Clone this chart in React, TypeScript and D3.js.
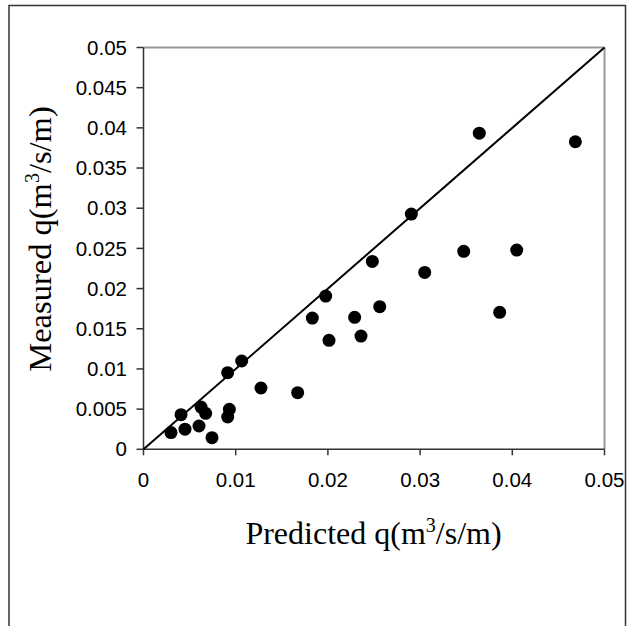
import React from "react";
import * as d3 from "d3";

const predicted = [
  0.00298, 0.0045, 0.00407, 0.00602, 0.00624, 0.00674, 0.00743, 0.00913, 0.00931, 0.00913,
  0.01065, 0.01274, 0.01672, 0.02012, 0.01831, 0.01976, 0.0229, 0.02359, 0.02562, 0.02482,
  0.02905, 0.0305, 0.03473, 0.03642, 0.04684, 0.04048, 0.03863,
];
const measured = [
  0.00208, 0.0025, 0.00431, 0.0029, 0.00526, 0.00448, 0.00145, 0.00402, 0.00498, 0.00954,
  0.01099, 0.00763, 0.00705, 0.01356, 0.01633, 0.01907, 0.01642, 0.01409, 0.01775, 0.02338,
  0.02927, 0.02201, 0.02463, 0.03934, 0.03827, 0.02479, 0.01704,
];
const xTicks = [0, 0.01, 0.02, 0.03, 0.04, 0.05];
const yTicks = [0, 0.005, 0.01, 0.015, 0.02, 0.025, 0.03, 0.035, 0.04, 0.045, 0.05];
const lineData: [number, number][] = [[0, 0], [0.05, 0.05]];

const W = 630;
const H = 626;
const L = 143.5, R = 604.5, T = 47.5, B = 449.3;

export default function App() {
  const x = d3.scaleLinear().domain([0, 0.05]).range([L, R]);
  const y = d3.scaleLinear().domain([0, 0.05]).range([B, T]);
  const line = d3.line<[number, number]>().x(d => x(d[0])).y(d => y(d[1]));
  const fmt = (v: number) => (v === 0 ? "0" : String(+v.toFixed(3)));
  const tickFont = "'Liberation Sans', Arial, sans-serif";
  const titleFont = "'Liberation Serif', 'Times New Roman', serif";
  return (
    <svg width={W} height={H} style={{ position: "absolute", left: 0, top: 0, background: "#fff" }}>
      <rect x={0} y={0} width={W} height={H} fill="#fff" />
      <rect x={9} y={5.5} width={616.5} height={700} fill="none" stroke="#333" strokeWidth={1.5} />
      <line x1={L} x2={R} y1={T} y2={T} stroke="#999" strokeWidth={2} />
      <line x1={R} x2={R} y1={T} y2={B} stroke="#999" strokeWidth={2} />
      <line x1={L} x2={L} y1={T} y2={B} stroke="#333" strokeWidth={1.5} />
      <line x1={L} x2={R} y1={B} y2={B} stroke="#333" strokeWidth={1.5} />
      {yTicks.map(t => (
        <g key={"y" + t}>
          <line x1={L - 7} x2={L} y1={y(t)} y2={y(t)} stroke="#333" strokeWidth={1.5} />
          <text x={127} y={y(t)} dy="0.35em" textAnchor="end" fontFamily={tickFont} fontSize={20.5} fill="#000">
            {fmt(t)}
          </text>
        </g>
      ))}
      {xTicks.map(t => (
        <g key={"x" + t}>
          <line x1={x(t)} x2={x(t)} y1={B} y2={B + 6} stroke="#333" strokeWidth={1.5} />
          <text x={x(t)} y={487} textAnchor="middle" fontFamily={tickFont} fontSize={20.5} fill="#000">
            {fmt(t)}
          </text>
        </g>
      ))}
      <path d={line(lineData) || ""} stroke="#000" strokeWidth={2} fill="none" />
      {predicted.map((p, i) => (
        <circle key={i} cx={x(p)} cy={y(measured[i])} r={6.5} fill="#000" />
      ))}
      <text x={373.5} y={544} textAnchor="middle" fontFamily={titleFont} fontSize={32} fill="#000">
        Predicted q(m<tspan dy={-12} fontSize={20}>3</tspan><tspan dy={12}>/s/m)</tspan>
      </text>
      <text transform={`translate(51,239) rotate(-90)`} textAnchor="middle" fontFamily={titleFont} fontSize={32.5} fill="#000">
        Measured q(m<tspan dy={-12} fontSize={20}>3</tspan><tspan dy={12}>/s/m)</tspan>
      </text>
    </svg>
  );
}
